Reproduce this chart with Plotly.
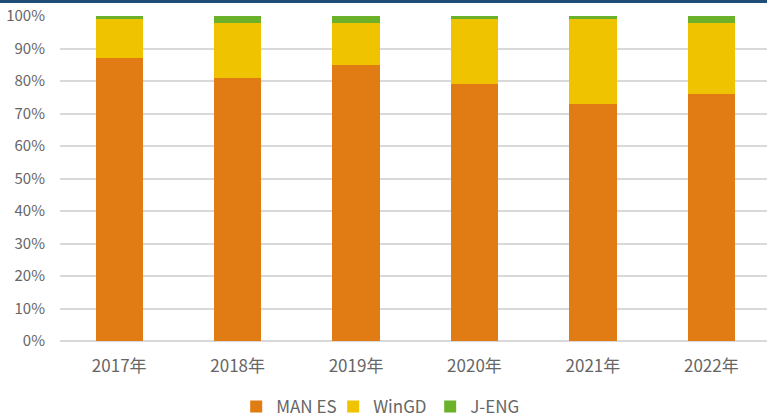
import plotly.graph_objects as go

years = ["2017年", "2018年", "2019年", "2020年", "2021年", "2022年"]
man_es = [87, 81, 85, 79, 73, 76]
wingd = [12, 17, 13, 20, 26, 22]
j_eng = [1, 2, 2, 1, 1, 2]
y_ticks = [0, 10, 20, 30, 40, 50, 60, 70, 80, 90, 100]
y_labels = [f"{v}%" for v in y_ticks]

font = "Noto Sans CJK SC, Noto Sans, sans-serif"
fig = go.Figure()
for name, vals, col in [("MAN ES", man_es, "#E07C13"),
                        ("WinGD", wingd, "#EFC300"),
                        ("J-ENG", j_eng, "#6BB12A")]:
    fig.add_trace(go.Bar(x=years, y=vals, name=name, marker_color=col,
                         marker_line_width=0, width=0.4))

fig.update_layout(
    barmode="stack",
    width=767, height=417,
    margin=dict(l=60, r=0, t=16, b=76, autoexpand=False),
    plot_bgcolor="white", paper_bgcolor="white",
    font=dict(family=font, color="#666666", size=15),
    showlegend=True,
    legend=dict(orientation="h", x=0.455, xanchor="center",
                yref="container", y=0.024, yanchor="middle",
                font=dict(size=17, color="#666666"), traceorder="normal",
                entrywidth=52, itemwidth=30, tracegroupgap=0),
    xaxis=dict(range=[-0.5, 5.47], showgrid=False, showline=False, ticks="",
               ticklabelstandoff=13,
               tickfont=dict(size=17, color="#666666")),
    yaxis=dict(range=[0, 100], tickvals=y_ticks, ticktext=y_labels,
               showgrid=True, gridcolor="#D9D9D9", gridwidth=1.5,
               zeroline=True, zerolinecolor="#D9D9D9", zerolinewidth=1.5,
               showline=False, ticks="", ticklabelstandoff=14,
               tickfont=dict(size=15, color="#666666")),
    shapes=[dict(type="rect", xref="paper", yref="paper", x0=-0.1, x1=1.1,
                 y0=1 + 13/325, y1=1 + 17/325, fillcolor="#1F4E79",
                 line_width=0, layer="above")],
)
fig.write_html("out.html")
